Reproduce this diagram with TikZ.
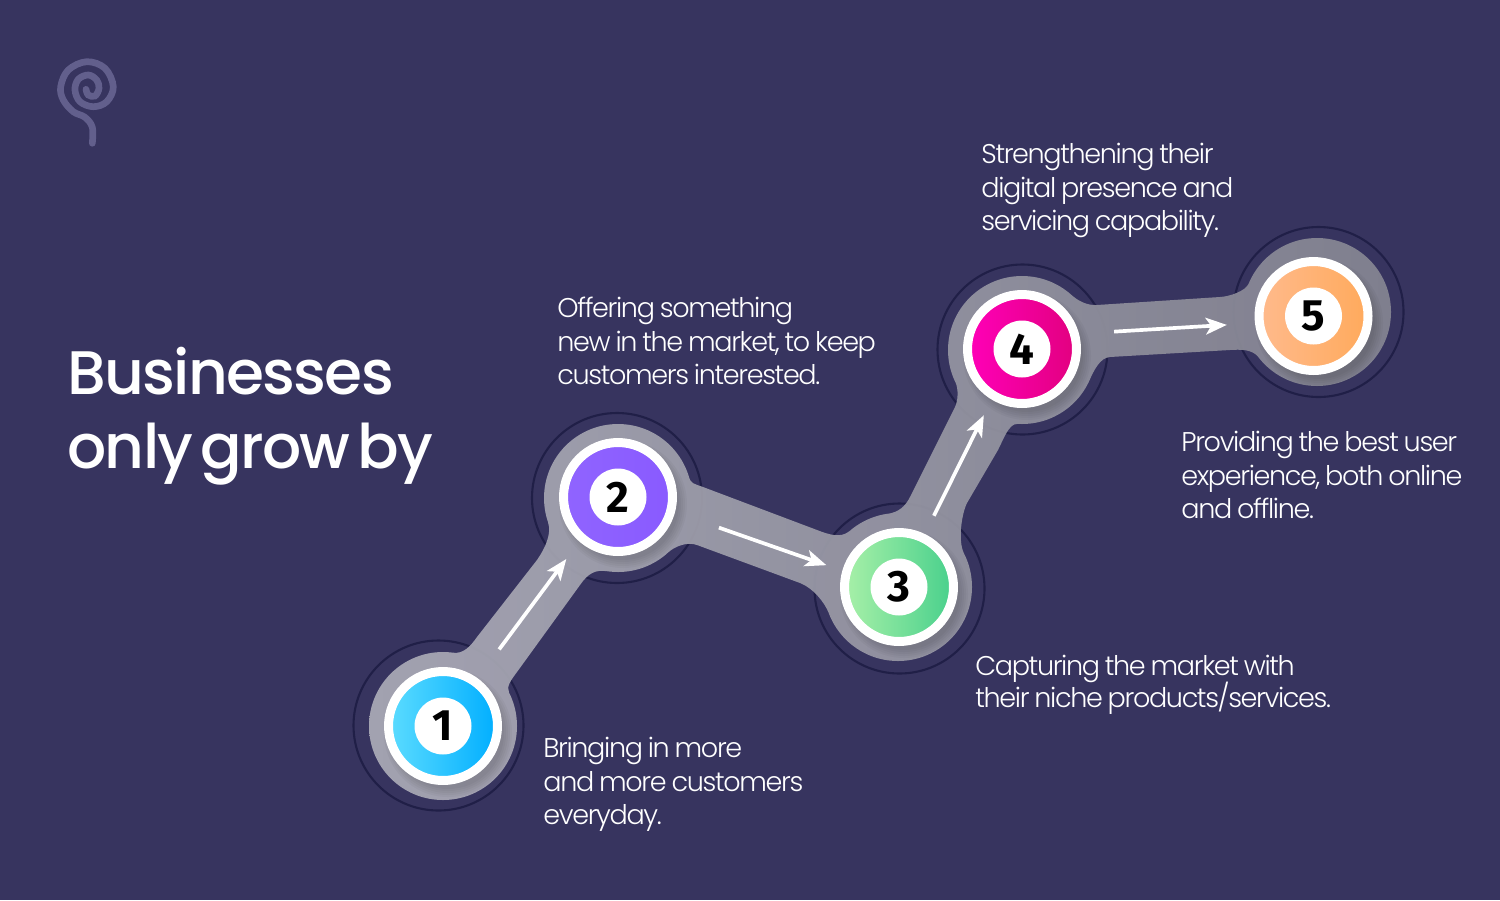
\documentclass[tikz,border=0pt]{standalone}
\usepackage{fontspec}
\usetikzlibrary{arrows.meta}
\setmainfont{Poppins Light}[LetterSpace=-5, WordSpace=0.8]
\newfontfamily\titlefont{Poppins Medium}[LetterSpace=-2.8, WordSpace=0.5]
\newfontfamily\numfont{Fira Sans Bold}
\definecolor{bgcol}{HTML}{37345F}
\definecolor{ringcol}{HTML}{201F47}
\definecolor{logocol}{HTML}{625F8C}
\definecolor{trackleft}{HTML}{ABABB7}
\definecolor{trackright}{HTML}{858592}
\definecolor{blueleft}{HTML}{5CDCFF}
\definecolor{blueright}{HTML}{00AEFF}
\definecolor{violetleft}{HTML}{9064FF}
\definecolor{violetright}{HTML}{895AFF}
\definecolor{greenleft}{HTML}{A8F0A8}
\definecolor{greenright}{HTML}{48D08C}
\definecolor{pinkleft}{HTML}{FF00B8}
\definecolor{pinkright}{HTML}{E2007F}
\definecolor{peachleft}{HTML}{FFBA8C}
\definecolor{peachright}{HTML}{FFAA5C}
\tikzset{
  ringline/.style={draw=ringcol, line width=1.2pt},
  stepdisc/.style={draw=white, line width=0.18cm, circle, inner sep=0pt, minimum size=2.18cm},
  numdisc/.style={fill=white, circle, inner sep=0pt, minimum size=1.14cm, text=black, font=\numfont\fontsize{25}{25}\selectfont},
  captext/.style={text=white, anchor=north west, inner sep=0pt, align=left, font=\fontsize{15.4}{19}\selectfont},
  flowarrow/.style={draw=white, line width=2.1pt, -{Stealth[length=12pt, width=9.5pt, inset=3pt]}}
}
\begin{document}
\begin{tikzpicture}[x=0.02cm, y=-0.02cm]
\fill[bgcol] (0,0) rectangle (1500,900);
% Logo
\draw[logocol, line width=3.8pt, line cap=round] plot[smooth, tension=0.6] coordinates {(92.3,143.3) (92.3,127.3) (85,117.3) (73.3,111.7) (63.3,100) (60.7,86.7) (68.3,70) (86.7,61.7) (105,68.3) (113.3,86.7) (106.7,101.7) (93.3,106.7) (80,101.7) (75,90) (78.3,79.3) (88.3,75) (96.7,80) (99,88.3) (95,96) (88.3,95) (86,89.3)};
% Rings
\foreach \cx/\cy in {438.5/725.5, 617/498, 899.5/588.5, 1022.5/349.5, 1318.5/312}
  \draw[ringline] (\cx,\cy) circle [radius=85];
% Track
\path[left color=trackleft, right color=trackright, fill opacity=0.93]
  (443,726) circle [radius=74] (618,498) circle [radius=74] (898,587) circle [radius=74] (1022,350) circle [radius=74] (1317,312) circle [radius=74]
  (453,652.7) .. controls (463,654) and (470,647) .. (477,637) -- (537,560) .. controls (545,548.5) and (552,533.6) .. (548,522.3) -- (607,571.2) .. controls (595,569.4) and (588,573.5) .. (580,585) -- (517,672) .. controls (511,680) and (506,687) .. (509,692) -- cycle
  (688.8,476.5) .. controls (691,484) and (693.6,483.5) .. (703,487) -- (817,530) .. controls (828,534.2) and (840.5,538.8) .. (849.6,531) -- (828.9,613.4) .. controls (824.6,602.2) and (813,588) .. (800,583) -- (697,545) .. controls (687.6,541.5) and (675,546) .. (667.7,552.8) -- cycle
  (887,514) .. controls (899,512.2) and (905.5,506) .. (910,497) -- (955,407) .. controls (958,401) and (958.7,389) .. (955.3,381.9) -- (1017,424) .. controls (1009,423.5) and (1003.4,439.3) .. (998,450) -- (967,503) .. controls (961.6,513.7) and (957.7,541) .. (964,553.5) -- cycle
  (1070.7,294.3) .. controls (1078,301) and (1087,305.6) .. (1097,305) -- (1220,297) .. controls (1230,296.4) and (1245.5,291) .. (1248.6,283.7) -- (1258.3,357) .. controls (1252,349) and (1240,349.4) .. (1230,350) -- (1110,357) .. controls (1100,357.7) and (1094,370) .. (1089.2,381) -- cycle;
% Shadows
\foreach \cx/\cy in {443/726, 618/497, 899/587, 1022/349, 1314/316}
  \foreach \r in {56,58,...,64}
    \fill[black, opacity=0.03] (\cx+5,\cy+7) circle [radius=\r];
% Steps
\node (d1) at (443,726) [stepdisc, left color=blueleft, right color=blueright] {};
\node (d2) at (618,497) [stepdisc, left color=violetleft, right color=violetright] {};
\node (d3) at (899,587) [stepdisc, left color=greenleft, right color=greenright] {};
\node (d4) at (1022,349) [stepdisc, left color=pinkleft, right color=pinkright] {};
\node (d5) at (1313.5,316) [stepdisc, left color=peachleft, right color=peachright] {};
\node (n1) at (d1) [numdisc] {1};
\node (n2) at (d2) [numdisc] {2};
\node (n3) at (d3) [numdisc] {3};
\node (n4) at (d4) [numdisc] {4};
\node (n5) at (d5) [numdisc] {5};
% Arrows
\draw[flowarrow, shorten <=20.5pt, shorten >=12.4pt] (d1.54) -- (d2.229);
\draw[flowarrow, shorten <=26.5pt, shorten >=9.6pt] (d2.-15.4) -- (d3.164);
\draw[flowarrow, shorten <=11.6pt, shorten >=10pt] (d3.64.4) -- (d4.239.4);
\draw[flowarrow, shorten <=20pt, shorten >=16pt] (d4.15) -- (d5.187);
% Title
\node (title) at (67,347) [text=white, anchor=north west, inner sep=0pt, align=left, font=\titlefont\fontsize{35}{42}\selectfont] {Businesses\\only grow by};
% Captions
\node (c1) at (543,737) [captext] {Bringing in more\\and more customers\\everyday.};
\node (c2) at (557,297) [captext] {Offering something\\new in the market, to keep\\customers interested.};
\node (c3) at (975,655) [captext] {Capturing the market with\\[-1.1pt]their niche products/services.};
\node (c4) at (981,143) [captext] {Strengthening their\\digital presence and\\servicing capability.};
\node (c5) at (1181,431) [captext] {Providing the best user\\experience, both online\\and offline.};
\end{tikzpicture}
\end{document}
